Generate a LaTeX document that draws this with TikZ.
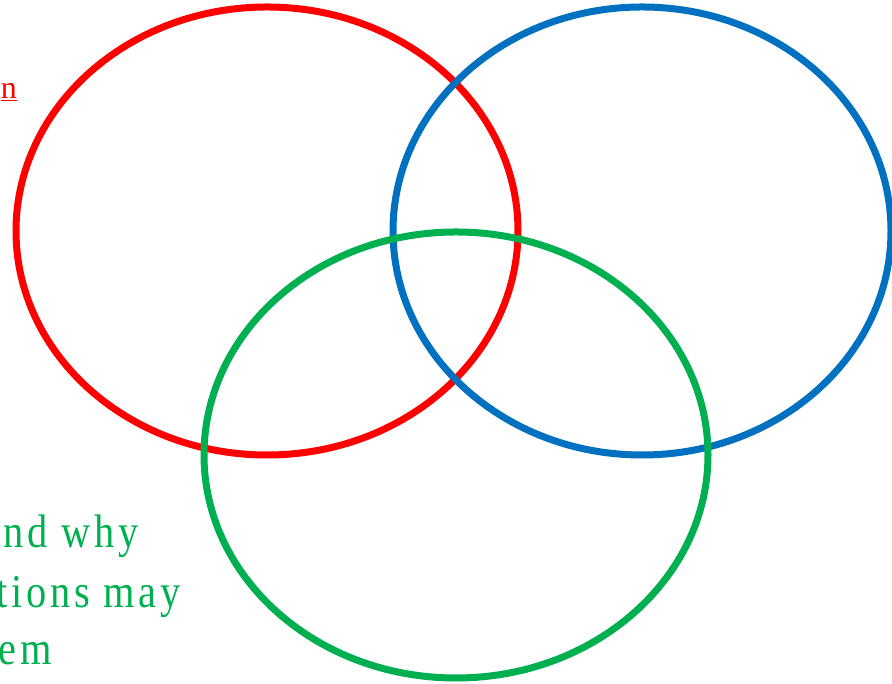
\documentclass[tikz,border=0pt]{standalone}
\usepackage{fontspec}
\setmainfont{Liberation Serif}
\newfontfamily\narrowserif[FakeStretch=0.86,LetterSpace=8]{Liberation Serif}
\definecolor{vred}{RGB}{255,0,0}
\definecolor{vblue}{RGB}{0,112,192}
\definecolor{vgreen}{RGB}{0,176,80}
\tikzset{
  ring/.style={line width=7pt},
  gtext/.style={text=vgreen,font=\narrowserif\fontsize{47}{50}\selectfont,anchor=base east,inner sep=0pt},
  rtext/.style={text=vred,font=\fontsize{32}{36}\selectfont,anchor=base east,inner sep=0pt}
}
\begin{document}
\begin{tikzpicture}[x=1pt,y=1pt]
\useasboundingbox (0,0) rectangle (892,684);
\draw[ring,vred] (267,453) ellipse [x radius=251,y radius=224];
\draw[ring,vblue] (642,453) ellipse [x radius=249,y radius=224];
\draw[ring,vgreen] (456,229) ellipse [x radius=252,y radius=223];
\node[rtext] (r1) at (17,585) {\underline{n}};
\node[gtext] (g1) at (139,136) {nd why};
\node[gtext] (g2) at (181,76) {tions may};
\node[gtext] (g3) at (52,19) {em};
\end{tikzpicture}
\end{document}
